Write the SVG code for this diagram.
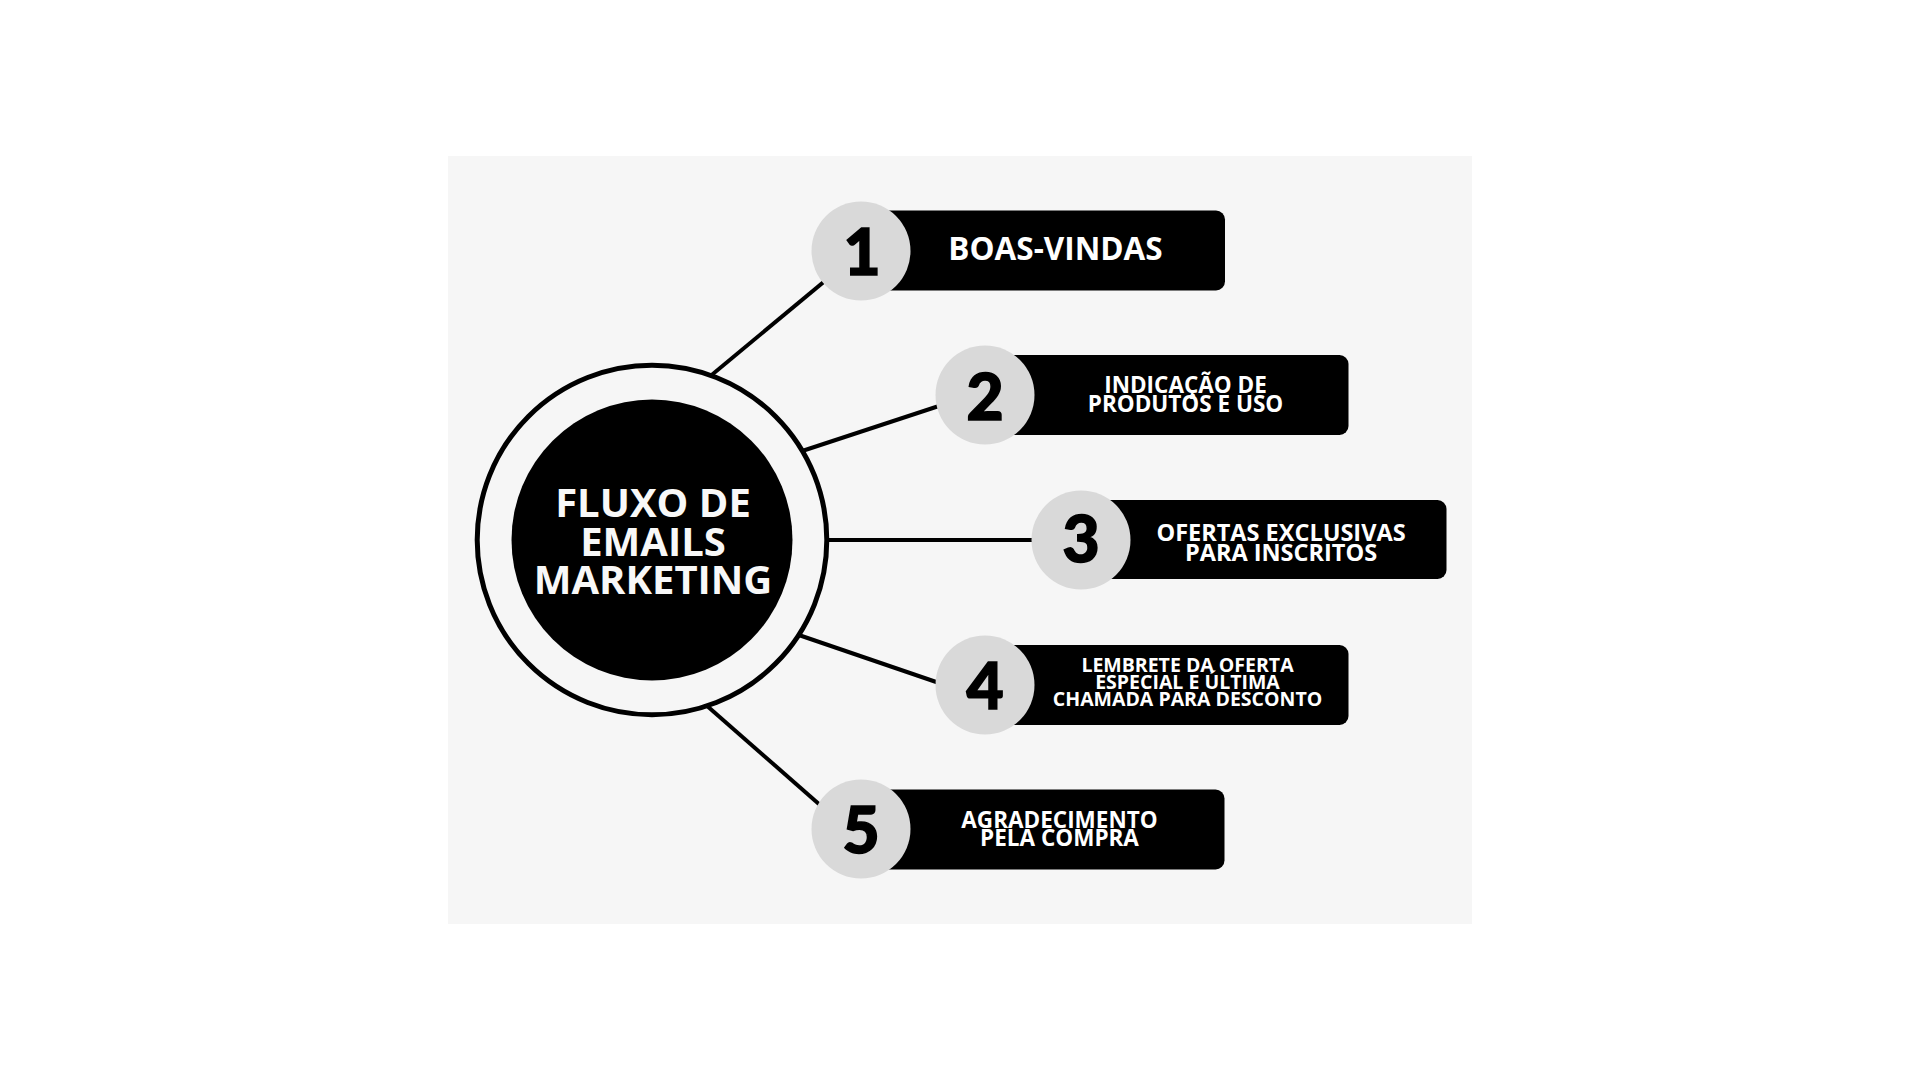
<svg xmlns="http://www.w3.org/2000/svg" width="1920" height="1080" viewBox="0 0 1920 1080">
  <style>
    .conn { stroke: #000; stroke-width: 4; fill: none; stroke-linecap: butt; }
    .bar { fill: #000; }
    .num-bg { fill: #d9d9d9; }
    .num { font-family: Lato, "Liberation Sans", sans-serif; font-weight: 900; font-size: 64px; fill: #000; stroke: #000; stroke-width: 1.6; text-anchor: middle; }
    .lbl { font-family: "Open Sans", "Liberation Sans", sans-serif; font-weight: 700; fill: #fff; text-anchor: middle; }
    .center-txt { font-family: "Open Sans", "Liberation Sans", sans-serif; font-weight: 700; font-size: 40px; fill: #f8f8f8; text-anchor: middle; }
  </style>
  <rect x="0" y="0" width="1920" height="1080" fill="#ffffff"/>
  <rect x="448" y="156" width="1024" height="768" fill="#f6f6f6"/>

  <g id="connectors">
    <line class="conn" x1="705" y1="380.5" x2="861" y2="251"/>
    <line class="conn" x1="790" y1="455" x2="945" y2="404"/>
    <line class="conn" x1="820" y1="540" x2="1080" y2="540"/>
    <line class="conn" x1="790" y1="632" x2="945" y2="685"/>
    <line class="conn" x1="700" y1="699.7" x2="830" y2="813.7"/>
  </g>

  <g id="center">
    <circle cx="652" cy="540" r="174.8" fill="#f6f6f6" stroke="#000" stroke-width="5"/>
    <circle cx="652" cy="540" r="140.5" fill="#000"/>
    <text class="center-txt" x="653" y="517">FLUXO DE</text>
    <text class="center-txt" x="653" y="555.5">EMAILS</text>
    <text class="center-txt" x="653" y="594">MARKETING</text>
  </g>

  <g id="step1">
    <rect class="bar" x="861" y="210.5" width="364" height="80" rx="9"/>
    <circle class="num-bg" cx="861" cy="251" r="49.5"/>
    <text class="num" x="862" y="275">1</text>
    <text class="lbl" x="1055.5" y="260" font-size="31.5">BOAS-VINDAS</text>
  </g>

  <g id="step2">
    <rect class="bar" x="985" y="355" width="363.5" height="80" rx="9"/>
    <circle class="num-bg" cx="985" cy="395" r="49.5"/>
    <text class="num" x="985" y="420">2</text>
    <text class="lbl" font-size="22.5"><tspan x="1185.5" y="393.3">INDICAÇÃO DE</tspan><tspan x="1185.5" y="411.5">PRODUTOS E USO</tspan></text>
  </g>

  <g id="step3">
    <rect class="bar" x="1080" y="500" width="366.5" height="79" rx="9"/>
    <circle class="num-bg" cx="1081" cy="540" r="49.5"/>
    <text class="num" x="1081" y="562">3</text>
    <text class="lbl" font-size="23.5"><tspan x="1281" y="540.5">OFERTAS EXCLUSIVAS</tspan><tspan x="1281" y="561">PARA INSCRITOS</tspan></text>
  </g>

  <g id="step4">
    <rect class="bar" x="985" y="645" width="363.5" height="80" rx="9"/>
    <circle class="num-bg" cx="985" cy="685" r="49.5"/>
    <text class="num" x="985" y="709">4</text>
    <text class="lbl" font-size="19.5"><tspan x="1187.5" y="671.7">LEMBRETE DA OFERTA</tspan><tspan x="1187.5" y="688.8">ESPECIAL E ÚLTIMA</tspan><tspan x="1187.5" y="706">CHAMADA PARA DESCONTO</tspan></text>
  </g>

  <g id="step5">
    <rect class="bar" x="861" y="789.5" width="363.5" height="80" rx="9"/>
    <circle class="num-bg" cx="861" cy="829" r="49.5"/>
    <text class="num" x="861" y="853">5</text>
    <text class="lbl" font-size="22.5"><tspan x="1059.5" y="828.3">AGRADECIMENTO</tspan><tspan x="1059.5" y="845.8">PELA COMPRA</tspan></text>
  </g>
</svg>
